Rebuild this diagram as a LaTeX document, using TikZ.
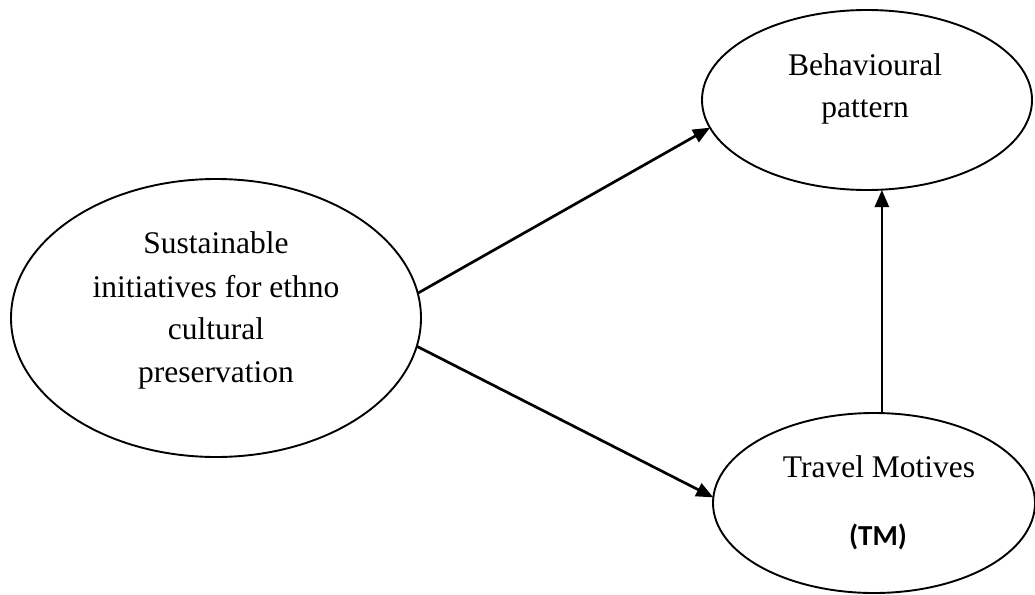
\documentclass[tikz,border=0pt]{standalone}
\usepackage{fontspec}
\setmainfont{Liberation Serif}
\newfontfamily\calibri{Carlito}
\usetikzlibrary{shapes.geometric,arrows.meta}
\begin{document}
\begin{tikzpicture}[x=1pt,y=-1pt,
  oval/.style={draw, ellipse, line width=1.9pt, inner sep=0pt, outer sep=0pt},
  txt/.style={anchor=base, inner sep=0pt, font=\fontsize{31.5}{43}\selectfont},
  tmtxt/.style={anchor=base, inner sep=0pt, font=\calibri\bfseries\fontsize{29}{34}\selectfont},
  conn/.style={line width=2.7pt, -{Triangle[length=17pt,width=14pt]}}]
\useasboundingbox (0,0) rectangle (1035,594);
\node[oval, minimum width=410pt, minimum height=278pt] (S) at (216,318) {};
\node[oval, minimum width=330pt, minimum height=180pt] (B) at (867,100) {};
\node[oval, minimum width=322pt, minimum height=180pt] (T) at (874,503) {};
\node[txt] (s1) at (216,253) {Sustainable};
\node[txt] (s2) at (216,297) {initiatives for ethno};
\node[txt] (s3) at (216,339) {cultural};
\node[txt] (s4) at (216,382) {preservation};
\node[txt] (b1) at (865,75) {Behavioural};
\node[txt] (b2) at (865,117) {pattern};
\node[txt] (t1) at (879,477) {Travel Motives};
\node[tmtxt] (t2) at (878,545) {(TM)};
\draw[conn] (S.7) -- (B.190);
\draw[conn] (S.-8) -- (T.178);
\draw[conn] (T.85) -- (T.85 |- B.south);
\end{tikzpicture}
\end{document}
